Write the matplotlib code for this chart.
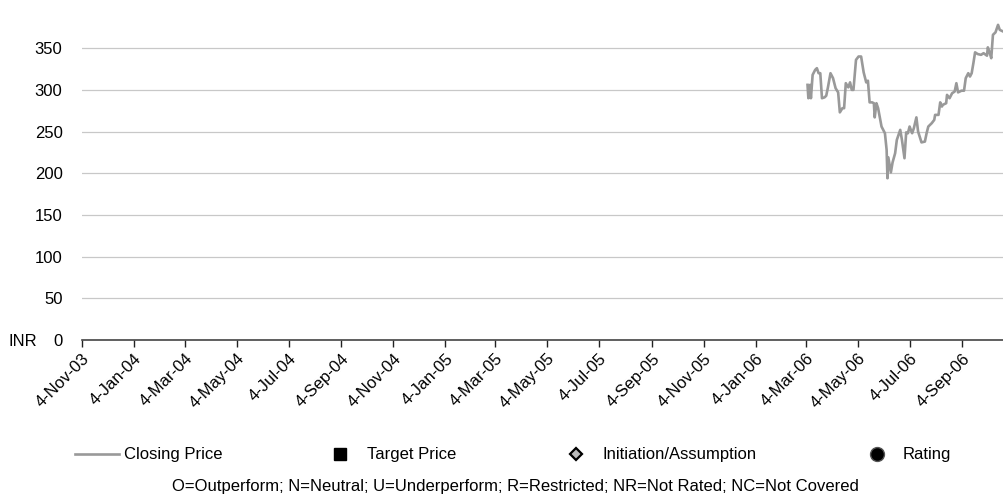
import matplotlib
matplotlib.use("Agg")
import matplotlib.pyplot as plt
import matplotlib.dates as mdates
from matplotlib import font_manager
from matplotlib.lines import Line2D
import pandas as pd

# closing price, INR
price_dates = [
    "2006-03-06", "2006-03-07", "2006-03-09", "2006-03-10", "2006-03-12", "2006-03-15",
    "2006-03-17", "2006-03-19", "2006-03-21", "2006-03-23", "2006-03-26", "2006-03-28",
    "2006-03-30", "2006-04-02", "2006-04-05", "2006-04-08", "2006-04-11", "2006-04-13",
    "2006-04-16", "2006-04-18", "2006-04-20", "2006-04-23", "2006-04-25", "2006-04-27",
    "2006-04-29", "2006-05-02", "2006-05-05", "2006-05-08", "2006-05-11", "2006-05-14",
    "2006-05-16", "2006-05-18", "2006-05-21", "2006-05-23", "2006-05-24", "2006-05-26",
    "2006-05-28", "2006-05-30", "2006-06-01", "2006-06-05", "2006-06-07", "2006-06-08",
    "2006-06-09", "2006-06-12", "2006-06-14", "2006-06-17", "2006-06-19", "2006-06-23",
    "2006-06-25", "2006-06-28", "2006-06-30", "2006-07-02", "2006-07-04", "2006-07-07",
    "2006-07-09", "2006-07-12", "2006-07-14", "2006-07-18", "2006-07-22", "2006-07-24",
    "2006-07-26", "2006-07-30", "2006-08-02", "2006-08-03", "2006-08-07", "2006-08-09",
    "2006-08-11", "2006-08-12", "2006-08-16", "2006-08-17", "2006-08-20", "2006-08-23",
    "2006-08-26", "2006-08-28", "2006-08-30", "2006-09-03", "2006-09-06", "2006-09-08",
    "2006-09-11", "2006-09-13", "2006-09-15", "2006-09-17", "2006-09-19", "2006-09-22",
    "2006-09-26", "2006-09-29", "2006-10-03", "2006-10-04", "2006-10-06", "2006-10-08",
    "2006-10-10", "2006-10-13", "2006-10-16", "2006-10-18", "2006-10-22",
]
closing_price = [
    306, 290, 306, 290, 318, 324,
    326, 320, 320, 290, 291, 293,
    303, 320, 314, 302, 297, 273,
    278, 278, 308, 303, 309, 300,
    300, 336, 340, 340, 321, 309,
    311, 285, 285, 284, 267, 284,
    278, 267, 256, 248, 228, 194,
    219, 201, 213, 224, 240, 252,
    240, 218, 249, 248, 256, 248,
    254, 267, 250, 237, 238, 248,
    256, 260, 264, 270, 270, 285,
    280, 282, 284, 294, 290, 296,
    298, 308, 297, 299, 299, 314,
    320, 316, 320, 332, 345, 343,
    342, 344, 341, 351, 345, 338,
    366, 369, 378, 372, 370,
]

y_ticks = [0, 50, 100, 150, 200, 250, 300, 350]
tick_dates = pd.date_range("2003-11-04", "2006-09-04", freq=pd.DateOffset(months=2))

legend_labels = ["Closing Price", "Target Price", "Initiation/Assumption", "Rating"]
footnote = "O=Outperform; N=Neutral; U=Underperform; R=Restricted; NR=Not Rated; NC=Not Covered"

# narrow sans if we have it
available = {f.name for f in font_manager.fontManager.ttflist}
if "Liberation Sans Narrow" in available:
    plt.rcParams['font.family'] = ["Liberation Sans Narrow", "DejaVu Sans"]
    fsize = 14
else:
    plt.rcParams['font.family'] = ["Liberation Sans", "DejaVu Sans"]
    fsize = 12

W, H = 1004, 501
fig = plt.figure(figsize=(W / 100, H / 100), dpi=100)
ax = fig.add_axes([82 / W, (H - 340) / H, (W - 82) / W, (340 - 19) / H])

x = pd.to_datetime(price_dates)
ax.plot(x, closing_price, color='#999999', linewidth=1.9, solid_joinstyle='round', zorder=3)

ax.set_xlim(pd.Timestamp("2003-11-04"), pd.Timestamp("2006-10-23"))
ax.set_ylim(0, 385)

ax.set_yticks(y_ticks)
ax.yaxis.grid(True, color='#c8c8c8', linewidth=0.9)
ax.set_axisbelow(True)
ax.tick_params(axis='y', length=0, pad=14, labelsize=fsize)

ax.set_xticks(tick_dates)
ax.xaxis.set_major_formatter(
    plt.FuncFormatter(lambda v, p: "%d-%s" % (mdates.num2date(v).day, mdates.num2date(v).strftime("%b-%y"))))
ax.tick_params(axis='x', direction='out', length=5, width=1, color='#222222', pad=3, labelsize=fsize)
for lab in ax.get_xticklabels():
    lab.set_rotation(45)
    lab.set_ha('right')
    lab.set_rotation_mode('anchor')

for s in ['top', 'right', 'left']:
    ax.spines[s].set_visible(False)
ax.spines['bottom'].set_color('#444444')
ax.spines['bottom'].set_linewidth(1.2)

fig.text(8 / W, (H - 342) / H, "INR", fontsize=fsize, va='center', ha='left')

# legend row drawn in pixel space
lg = fig.add_axes([0, 0, 1, 1], facecolor='none')
lg.set_xlim(0, W)
lg.set_ylim(H, 0)
lg.axis('off')
ly = 454
lg.add_line(Line2D([75, 119], [ly, ly], color='#999999', linewidth=1.9))
lg.plot([340], [ly], marker='s', markersize=9, color='black', linestyle='none')
lg.plot([576], [ly], marker='D', markersize=6, markerfacecolor='#bbbbbb',
        markeredgecolor='black', markeredgewidth=1.6, linestyle='none')
lg.plot([877], [ly], marker='o', markersize=10, markerfacecolor='black',
        markeredgecolor='#555555', markeredgewidth=1, linestyle='none')
for xt, t in zip([124, 367, 603, 903], legend_labels):
    lg.text(xt, ly, t, fontsize=fsize, va='center', ha='left')
lg.text(515, 487, footnote, fontsize=fsize, va='center', ha='center')

fig.savefig("out.png", dpi=100)
